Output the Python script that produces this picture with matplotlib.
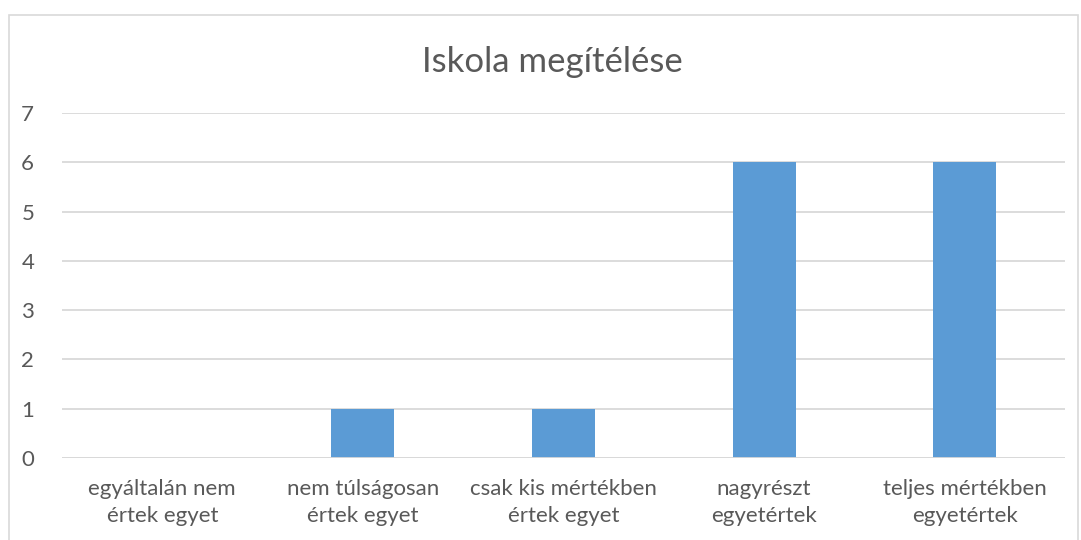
import matplotlib
matplotlib.use("Agg")
import matplotlib.pyplot as plt
from matplotlib.patches import Rectangle

categories = ["egyáltalán nem\nértek egyet", "nem túlságosan\nértek egyet",
              "csak kis mértékben\nértek egyet", "nagyrészt\negyetértek",
              "teljes mértékben\negyetértek"]
values = [0, 1, 1, 6, 6]
yticks = [0, 1, 2, 3, 4, 5, 6, 7]
title = "Iskola megítélése"

plt.rcParams['font.family'] = ['Lato', 'DejaVu Sans']
txt = "#595959"
grid = "#D9D9D9"

fig = plt.figure(figsize=(10.81, 5.40), dpi=100)
fig.patches.append(Rectangle((9/1081, -0.01), (1078-9)/1081, 1 - 15/540 + 0.01,
                             transform=fig.transFigure, fill=False,
                             edgecolor=grid, linewidth=1.2))
ax = fig.add_axes([62/1081, 1-458/540, (1065-62)/1081, (458-113)/540])
x = list(range(len(categories)))
ax.bar(x, values, width=0.314, color="#5B9BD5", zorder=3)
ax.set_xlim(-0.5, len(categories) - 0.5)
ax.set_ylim(0, 7)
ax.set_yticks(yticks)
ax.set_yticklabels([str(t) for t in yticks], fontsize=16, color=txt)
ax.set_xticks(x)
ax.set_xticklabels(categories, fontsize=16, color=txt, linespacing=1.45)
ax.tick_params(axis='both', length=0)
ax.tick_params(axis='y', pad=20)
ax.tick_params(axis='x', pad=15)
ax.yaxis.grid(True, color=grid, linewidth=1.3, zorder=0)
for s in ax.spines.values():
    s.set_visible(False)
ax.axhline(0, color=grid, linewidth=1.3, zorder=4)
fig.text(552/1081, 1-62/540, title, ha='center', va='center', fontsize=25, color=txt)
fig.savefig("out.png", dpi=100)
